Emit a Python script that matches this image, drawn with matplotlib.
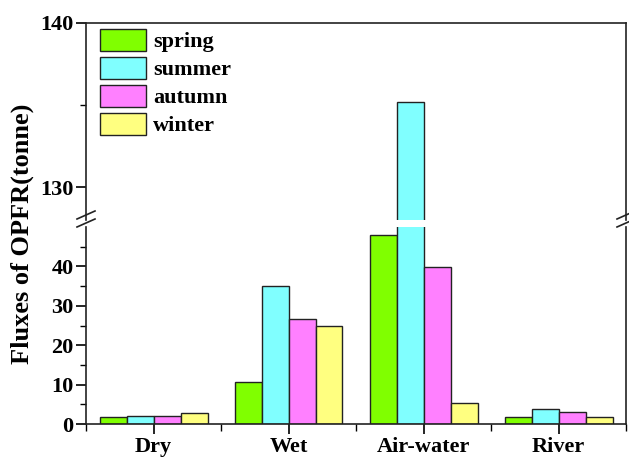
import numpy as np
import matplotlib
matplotlib.use("Agg")
import matplotlib.pyplot as plt
from matplotlib.ticker import FixedLocator

plt.rcParams['font.family'] = ['Liberation Serif', 'DejaVu Serif']
plt.rcParams['font.weight'] = 'bold'

categories = ["Dry", "Wet", "Air-water", "River"]
seasons = ["spring", "summer", "autumn", "winter"]
spring = [1.7, 10.6, 48.0, 1.7]
summer = [2.0, 35.0, 135.2, 3.7]
autumn = [2.0, 26.7, 39.9, 3.0]
winter = [2.7, 24.9, 5.3, 1.7]
colors = ["#80FF00", "#80FFFF", "#FF80FF", "#FFFF80"]

series = [spring, summer, autumn, winter]

fig = plt.figure(figsize=(6.29, 4.58), dpi=100)
left, width = 86 / 629, 540 / 629
ax_lo = fig.add_axes([left, 34 / 458, width, 197 / 458])
ax_hi = fig.add_axes([left, 238 / 458, width, 197 / 458])

x = np.arange(1, len(categories) + 1)
w = 0.2
for ax in (ax_lo, ax_hi):
    for i, (vals, c, name) in enumerate(zip(series, colors, seasons)):
        ax.bar(x + (i - 1.5) * w, vals, w, color=c, edgecolor="#222222",
               linewidth=1.0, label=name)
    ax.set_xlim(0.5, 4.5)
    for s in ax.spines.values():
        s.set_linewidth(1.2)
        s.set_color("#222222")
    ax.tick_params(axis="y", which="major", direction="out", length=7,
                   width=1.2, labelsize=16, pad=2)
    ax.tick_params(axis="y", which="minor", direction="out", length=4, width=1.0)

ax_lo.set_ylim(0, 50)
ax_lo.yaxis.set_major_locator(FixedLocator([0, 10, 20, 30, 40]))
ax_lo.yaxis.set_minor_locator(FixedLocator([5, 15, 25, 35, 45]))
ax_lo.spines["top"].set_visible(False)
ax_lo.set_xticks(x)
ax_lo.set_xticklabels(categories)
ax_lo.xaxis.set_minor_locator(FixedLocator([0.5, 1.5, 2.5, 3.5, 4.5]))
ax_lo.tick_params(axis="x", which="major", direction="out", length=7,
                  width=1.2, labelsize=16, pad=2.5)
ax_lo.tick_params(axis="x", which="minor", direction="out", length=5, width=1.0)

ax_hi.set_ylim(128, 140)
ax_hi.yaxis.set_major_locator(FixedLocator([130, 140]))
ax_hi.yaxis.set_minor_locator(FixedLocator([135]))
ax_hi.spines["bottom"].set_visible(False)
ax_hi.tick_params(axis="x", which="both", bottom=False, labelbottom=False)

leg = ax_hi.legend(loc="upper left", bbox_to_anchor=(0.025, 0.97), frameon=False,
                   fontsize=16, handlelength=2.1, handleheight=1.15,
                   labelspacing=0.2, handletextpad=0.3, borderaxespad=0.0,
                   borderpad=0.0)
for t in leg.get_texts():
    t.set_fontweight("bold")

# break marks
for xf in (left, left + width):
    for yp in (215, 223):
        yf = 1 - yp / 458
        fig.add_artist(plt.Line2D([xf - 9 / 629, xf + 9 / 629],
                                  [yf - 4 / 458, yf + 4 / 458],
                                  color="#222222", lw=1.2))

fig.text(22 / 629, 1 - 234 / 458, "Fluxes of OPFR(tonne)", rotation=90,
         ha="center", va="center", fontsize=19, fontweight="bold")

fig.savefig("out.png", dpi=100)
